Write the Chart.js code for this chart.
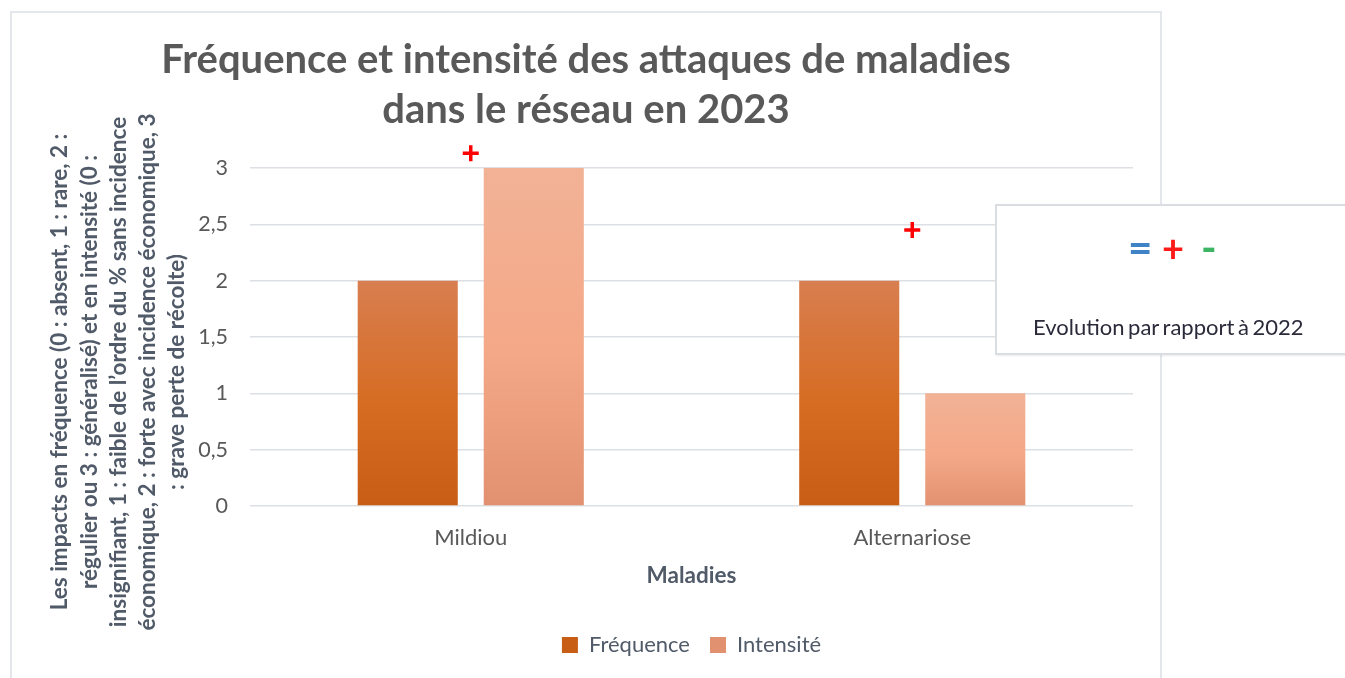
<!DOCTYPE html>
<html>
<head>
<meta charset="utf-8">
<script src="https://cdn.jsdelivr.net/npm/chart.js@4"></script>
<style>
  body { margin: 0; background: #fff; width: 1345px; height: 678px; overflow: hidden; position: relative; font-family: Lato, sans-serif; }
  #frame { position: absolute; left: 10px; top: 11px; width: 1152px; height: 690px; border: 2px solid #e3e6ea; box-sizing: border-box; }
  #frame canvas { display: block; }
  #evo { position: absolute; left: 995px; top: 204px; width: 370px; height: 151px; background: #fff;
         border: 2px solid #dadde1; box-sizing: border-box; box-shadow: 1px 1px 2px rgba(0,0,0,0.08); }
  #evo .sign { position: absolute; top: 22px; font-size: 38px; line-height: 38px; font-weight: bold; }
  #evo .label { position: absolute; top: 107px; left: 36px; font-size: 22px; color: #2a2a3a; word-spacing: -2px; }
</style>
</head>
<body>
<div id="frame"><canvas id="chart" width="1148" height="686"></canvas></div>
<div id="evo">
  <span class="sign" style="left:131px;color:#3f83c6;font-size:42px">=</span>
  <span class="sign" style="left:165px;color:#ff1a1a">+</span>
  <span class="sign" style="left:204px;color:#3cb464;font-size:42px">-</span>
  <div class="label">Evolution par rapport à 2022</div>
</div>
<script>
const categories = ['Mildiou', 'Alternariose'];
const frequence = [2, 2];
const intensite = [3, 1];
const yTickLabels = ['0', '0,5', '1', '1,5', '2', '2,5', '3'];
// red "+" evolution marks (category index, value height)
const plusCategories = [0, 1];
const plusValues = [3.13, 2.45];

const titleLines = ['Fréquence et intensité des attaques de maladies', 'dans le réseau en 2023'];
const yTitleLines = [
  'Les impacts en fréquence (0 : absent, 1 : rare, 2 :',
  'régulier ou 3 : généralisé) et en intensité (0 :',
  'insignifiant, 1 : faible de l\u2019ordre du % sans incidence',
  'économique, 2 : forte avec incidence économique, 3',
  ': grave perte de récolte)'
];

Chart.defaults.font.family = 'Lato';
Chart.defaults.color = '#595959';

function barGradient(stops) {
  return (ctx) => {
    const chart = ctx.chart;
    const { chartArea, scales } = chart;
    if (!chartArea || ctx.type !== 'data') return stops[1];
    const top = scales.y.getPixelForValue(ctx.raw);
    const bottom = scales.y.getPixelForValue(0);
    const g = chart.ctx.createLinearGradient(0, top, 0, bottom);
    g.addColorStop(0, stops[0]);
    g.addColorStop(0.55, stops[1]);
    g.addColorStop(1, stops[2]);
    return g;
  };
}

const plusMarks = {
  id: 'plusMarks',
  afterDatasetsDraw(chart) {
    const { ctx, scales } = chart;
    ctx.save();
    ctx.strokeStyle = '#ff0000';
    ctx.lineWidth = 3.5;
    plusCategories.forEach((c, i) => {
      const x = scales.x.getPixelForValue(c);
      const y = scales.y.getPixelForValue(plusValues[i]);
      ctx.beginPath();
      ctx.moveTo(x - 8, y); ctx.lineTo(x + 8, y);
      ctx.moveTo(x, y - 8); ctx.lineTo(x, y + 8);
      ctx.stroke();
    });
    ctx.restore();
  }
};

// multi-line rotated y title, centred a bit lower than the plot like the original
const yTitle = {
  id: 'yTitle',
  afterDraw(chart) {
    const { ctx, chartArea, scales } = chart;
    const cy = (chartArea.top + chartArea.bottom) / 2 + 35;
    ctx.save();
    ctx.fillStyle = '#505a68';
    ctx.font = 'bold 22.5px Lato';
    ctx.textAlign = 'center';
    ctx.textBaseline = 'middle';
    yTitleLines.forEach((line, i) => {
      ctx.save();
      ctx.translate(scales.y.left + 48 + i * 29.3, cy);
      ctx.rotate(-Math.PI / 2);
      ctx.fillText(line, 0, 0);
      ctx.restore();
    });
    ctx.restore();
  }
};

new Chart(document.getElementById('chart'), {
  type: 'bar',
  data: {
    labels: categories,
    datasets: [
      {
        label: 'Fréquence',
        data: frequence,
        backgroundColor: barGradient(['#d87e50', '#d66c22', '#c85e16']),
        categoryPercentage: 0.571,
        barPercentage: 0.794
      },
      {
        label: 'Intensité',
        data: intensite,
        backgroundColor: barGradient(['#f2b296', '#f4a887', '#e29170']),
        categoryPercentage: 0.571,
        barPercentage: 0.794
      }
    ]
  },
  options: {
    responsive: false,
    animation: false,
    layout: { padding: { left: 0, right: 0, top: 0, bottom: 33 } },
    plugins: {
      title: {
        display: true,
        text: titleLines,
        color: '#595959',
        font: { size: 40, weight: 'bold', lineHeight: 1.25 },
        padding: { top: 22, bottom: 33 }
      },
      legend: {
        position: 'bottom',
        fullSize: false,
        labels: { boxWidth: 16, boxHeight: 16, font: { size: 22 }, color: '#505a68', padding: 20 }
      },
      tooltip: { enabled: false }
    },
    scales: {
      x: {
        grid: { display: false, drawTicks: false },
        border: { display: false },
        ticks: { font: { size: 22 }, color: '#595959', padding: 19 },
        title: {
          display: true,
          text: 'Maladies',
          color: '#505a68',
          font: { size: 22.5, weight: 'bold' },
          padding: { top: 0, bottom: 24.5 }
        },
        afterFit: (s) => { s.height = 108; }
      },
      y: {
        min: 0,
        max: 3,
        ticks: {
          stepSize: 0.5,
          font: { size: 21.5 },
          color: '#595959',
          padding: 22,
          callback: (v, i) => yTickLabels[i]
        },
        grid: { color: '#dcdfe4', lineWidth: 1.5, drawTicks: false },
        border: { display: false },
        afterFit: (s) => { s.width = 238; }
      },
      // empty right gutter so the title stays centred on the whole frame
      yRight: {
        position: 'right',
        grid: { display: false, drawTicks: false },
        border: { display: false },
        ticks: { display: false },
        afterFit: (s) => { s.width = 27; }
      }
    }
  },
  plugins: [plusMarks, yTitle]
});
</script>
</body>
</html>
